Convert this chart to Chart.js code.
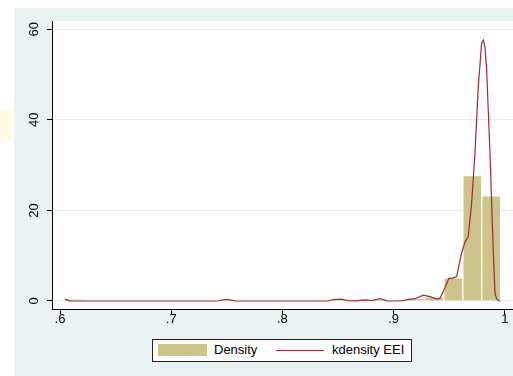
<!DOCTYPE html>
<html>
<head>
<meta charset="utf-8">
<script src="https://cdn.jsdelivr.net/npm/chart.js@4/dist/chart.umd.min.js"></script>
<style>
  body { margin: 0; background: #fff; width: 513px; height: 376px; overflow: hidden; position: relative; font-family: "Liberation Sans", Arial, sans-serif; }
  #frame { position: absolute; left: 14px; top: 8px; width: 499px; height: 368px; background: #EAF2F3; }
  #mark { position: absolute; left: 0; top: 110px; width: 13px; height: 30px; background: #FFFBE5; }
  #legend { position: absolute; left: 152px; top: 339px; width: 258px; height: 21px; border: 1px solid #222; background: #fff; font-size: 13px; color: #000; }
  #legend .sw { position: absolute; left: 5px; top: 4px; width: 49px; height: 12px; background: #CCC488; }
  #legend .ln { position: absolute; left: 123px; top: 10px; width: 48px; height: 0; border-top: 1.2px solid #9E2B36; }
  #legend .t1 { position: absolute; left: 61px; top: 2px; }
  #legend .t2 { position: absolute; left: 179px; top: 2px; }
</style>
</head>
<body>
<div id="mark"></div>
<div id="frame"><canvas id="c" width="499" height="368"></canvas></div>
<div id="legend">
  <div class="sw"></div><span class="t1">Density</span>
  <div class="ln"></div><span class="t2">kdensity EEI</span>
</div>
<script>
// histogram bins (EEI), centers and density heights
const binCenters = [0.6135, 0.6305, 0.6475, 0.6646, 0.6816, 0.6986, 0.7156, 0.7326, 0.7496, 0.7666,
  0.7836, 0.8006, 0.8177, 0.8347, 0.8517, 0.8687, 0.8857, 0.9027, 0.9197, 0.9367, 0.9538, 0.9708, 0.9878];
const density = [0.3, 0, 0, 0, 0, 0, 0, 0, 0.3, 0,
  0, 0, 0, 0, 0.3, 0.3, 0.3, 0, 0.6, 0.9, 5.1, 27.7, 23.2];

// kernel density curve
const kdX = [0.6045, 0.6090, 0.6180, 0.7394, 0.7421, 0.7499, 0.7574, 0.7664, 0.8410, 0.8455,
  0.8527, 0.8590, 0.8662, 0.8743, 0.8806, 0.8878, 0.8941, 0.9031, 0.9094, 0.9121,
  0.9193, 0.9267, 0.9327, 0.9390, 0.9417, 0.9462, 0.9498, 0.9525, 0.9567, 0.9612,
  0.9642, 0.9671, 0.9702, 0.9732, 0.9762, 0.9792, 0.9807, 0.9822, 0.9837, 0.9867,
  0.9897, 0.9912, 0.9927, 0.9948, 0.9961];
const kdY = [0.35, 0.02, 0, 0, 0.05, 0.35, 0.03, 0, 0, 0.3,
  0.4, 0.05, 0.03, 0.25, 0.1, 0.5, 0.02, 0, 0.1, 0.3,
  0.5, 1.3, 0.95, 0.4, 0.6, 2.9, 5.0, 5.0, 5.4, 10.6,
  13.0, 14.2, 21.6, 32.7, 47.4, 57.0, 57.6, 56.0, 51.0, 32.7,
  10.6, 1.8, 0.4, 0.05, 0];

const xTicks = [0.6, 0.7, 0.8, 0.9, 1];
const yTicks = [0, 20, 40, 60];

const khaki = '#CCC488';
const maroon = '#9E2B36';
const font = { family: '"Liberation Sans", Arial, sans-serif', size: 13 };

const chartBg = {
  id: 'chartBg',
  beforeDraw(chart) {
    const a = chart.chartArea, ctx = chart.ctx;
    ctx.save();
    ctx.fillStyle = '#fff';
    ctx.fillRect(a.left, a.top, a.right - a.left, a.bottom - a.top);
    ctx.restore();
  }
};

// vertical y tick labels, Stata style
const yLabels = {
  id: 'yLabels',
  afterDraw(chart) {
    const s = chart.scales.y, ctx = chart.ctx;
    ctx.save();
    ctx.fillStyle = '#000';
    ctx.font = font.size + 'px ' + font.family;
    ctx.textAlign = 'center';
    ctx.textBaseline = 'middle';
    yTicks.forEach(v => {
      const y = s.getPixelForValue(v);
      ctx.save();
      ctx.translate(20, y);
      ctx.rotate(-Math.PI / 2);
      ctx.fillText(String(v), 0, 0);
      ctx.restore();
    });
    ctx.restore();
  }
};

new Chart(document.getElementById('c'), {
  data: {
    datasets: [
      {
        type: 'line',
        label: 'kdensity EEI',
        data: kdX.map((x, i) => ({ x: x, y: kdY[i] })),
        borderColor: maroon,
        borderWidth: 1.2,
        pointRadius: 0,
        tension: 0,
        order: 1
      },
      {
        type: 'bar',
        label: 'Density',
        data: binCenters.map((x, i) => ({ x: x, y: density[i] })),
        backgroundColor: khaki,
        borderColor: 'rgba(255,255,255,0.45)',
        borderWidth: 1,
        barPercentage: 1,
        categoryPercentage: 1,
        order: 2
      }
    ]
  },
  options: {
    responsive: false,
    animation: false,
    devicePixelRatio: 1,
    layout: { padding: { top: 13, right: 0, bottom: 42, left: 0 } },
    plugins: { legend: { display: false }, tooltip: { enabled: false } },
    scales: {
      x: {
        type: 'linear',
        min: 0.5928,
        max: 1.0074,
        offset: false,
        afterBuildTicks: s => { s.ticks = xTicks.map(v => ({ value: v })); },
        afterFit: s => { s.height = 25; },
        ticks: {
          color: '#000',
          font: font,
          padding: -2,
          maxRotation: 0,
          callback: v => v === 1 ? '1' : String(v).replace(/^0/, '')
        },
        grid: { offset: false, drawOnChartArea: false, tickColor: '#000', tickLength: 5 },
        border: { color: '#000', width: 1 }
      },
      y: {
        min: -1.77,
        max: 61.83,
        afterBuildTicks: s => { s.ticks = yTicks.map(v => ({ value: v })); },
        afterFit: s => { s.width = 38; },
        ticks: { display: false },
        grid: { color: '#E4EDEF', tickColor: '#000', tickLength: 5 },
        border: { color: '#000', width: 1 }
      }
    }
  },
  plugins: [chartBg, yLabels]
});
</script>
</body>
</html>
